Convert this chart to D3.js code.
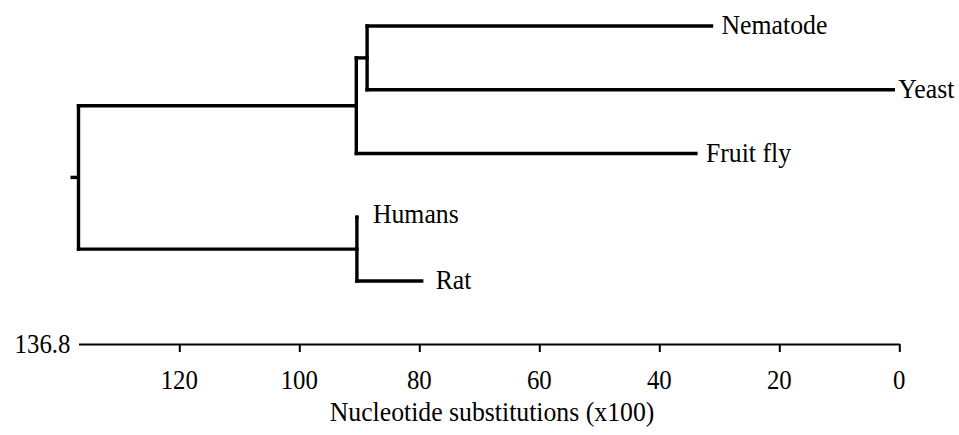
<!DOCTYPE html>
<html>
<head>
<meta charset="utf-8">
<script src="https://cdn.jsdelivr.net/npm/d3@7"></script>
<style>html,body{margin:0;background:#fff}</style>
</head>
<body>
<svg id="chart" width="959" height="435"></svg>
<script>
// ---- Data ----
// Leaf taxa in display order and their heights (time before present, x100 substitutions)
const leafNames   = ["Nematode", "Yeast", "Fruit fly", "Humans", "Rat"];
const leafHeights = [31.3, 1.0, 33.9, 90.4, 79.6];
// Internal nodes: name, height, children
const nodeNames    = ["root", "upper", "nemYeast", "humRat"];
const nodeHeights  = [136.8, 90.5, 88.7, 90.4];
const nodeChildren = [["upper", "humRat"], ["nemYeast", "Fruit fly"], ["Nematode", "Yeast"], ["Humans", "Rat"]];
// Axis
const rootAge     = 136.8;
const tickValues  = [120, 100, 80, 60, 40, 20, 0];
const axisTitle   = "Nucleotide substitutions (x100)";

// ---- Build hierarchy ----
const heightOf = {};
leafNames.forEach((n, i) => heightOf[n] = leafHeights[i]);
nodeNames.forEach((n, i) => heightOf[n] = nodeHeights[i]);
const childrenOf = {};
nodeNames.forEach((n, i) => childrenOf[n] = nodeChildren[i]);
function build(name) {
  const o = { name: name, age: heightOf[name] };
  if (childrenOf[name]) o.children = childrenOf[name].map(build);
  return o;
}
const root = d3.hierarchy(build("root"));

// ---- Scales ----
const svg = d3.select("#chart");
const x = d3.scaleLinear().domain([rootAge, 0]).range([78.5, 899.3]);
const y = d3.scaleLinear().domain([0, leafNames.length - 1]).range([26, 281]);

root.leaves().forEach(l => { l.yy = y(leafNames.indexOf(l.data.name)); });
root.eachAfter(n => {
  if (n.children) {
    const ys = n.children.map(c => c.yy);
    n.yy = (d3.min(ys) + d3.max(ys)) / 2;
  }
  n.xx = x(n.data.age);
});

const stroke = 3.4;

root.descendants().forEach(n => {
  if (n.parent) {
    svg.append("line")
      .attr("x1", n.parent.xx).attr("x2", n.xx)
      .attr("y1", n.yy).attr("y2", n.yy)
      .attr("stroke", "#000").attr("stroke-width", stroke).attr("stroke-linecap", "square");
  }
  if (n.children) {
    const ys = n.children.map(c => c.yy);
    svg.append("line")
      .attr("x1", n.xx).attr("x2", n.xx)
      .attr("y1", d3.min(ys)).attr("y2", d3.max(ys))
      .attr("stroke", "#000").attr("stroke-width", stroke).attr("stroke-linecap", "square");
  }
});
svg.append("line")
  .attr("x1", root.xx - 8).attr("x2", root.xx)
  .attr("y1", root.yy).attr("y2", root.yy)
  .attr("stroke", "#000").attr("stroke-width", stroke);

// slightly condensed, tall serif text as in the reference
function label(tx, ty, str, size, anchor) {
  svg.append("text")
    .attr("transform", `translate(${tx},${ty}) scale(0.92,1)`)
    .style("font-family", "'Liberation Serif'")
    .attr("font-size", size)
    .attr("fill", "#000")
    .attr("text-anchor", anchor || "start")
    .text(str);
}

root.leaves().forEach(l => {
  const name = l.data.name;
  let dx = 10, dy = 8;
  if (name === "Yeast") dx = 5;
  if (name === "Humans") { dx = 16; dy = 0; }
  if (name === "Rat") dx = 14;
  const yy = name === "Humans" ? l.yy + 6 : l.yy;
  label(l.xx + dx, yy + dy, name, 28);
});

// ---- Axis ----
const axisY = 344;
const axis = d3.axisBottom(x)
  .tickValues(tickValues)
  .tickFormat("")
  .tickSize(8)
  .tickSizeOuter(0);
const ag = svg.append("g").attr("transform", `translate(0,${axisY})`).call(axis);
ag.select(".domain").attr("stroke", "#000").attr("stroke-width", 2.2);
ag.selectAll(".tick line").attr("stroke", "#000").attr("stroke-width", 2);
ag.selectAll(".tick text").remove();

tickValues.forEach(v => label(x(v), axisY + 45, String(v), 27, "middle"));

label(x(rootAge) - 8, axisY + 9, rootAge.toFixed(1), 27, "end");

label(492, 421, axisTitle, 28, "middle");
</script>
</body>
</html>
